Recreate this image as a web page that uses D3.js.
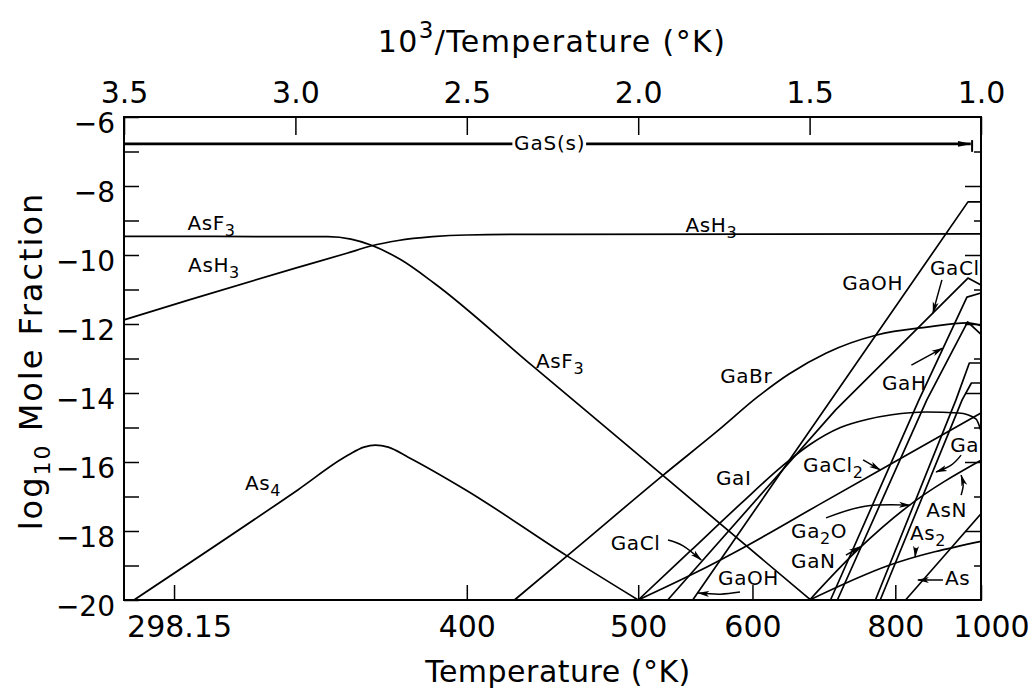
<!DOCTYPE html>
<html>
<head>
<meta charset="utf-8">
<script src="https://cdnjs.cloudflare.com/ajax/libs/d3/7.8.5/d3.min.js"></script>
<style>
  body { margin: 0; background: #fff; }
  svg { display: block; }
</style>
</head>
<body>
<div class="canva"></div>
<script>
// values: x = 1000/T, y = log10 mole fraction
const invTTicks = [3.5, 3.0, 2.5, 2.0, 1.5, 1.0];
const tempTicks = [298.15, 400, 500, 600, 800, 1000];
const logTicks = d3.range(-20, -5);

// curves, [1000/T, log10 x]
const asF3 = [[3.5,-9.46],[2.905,-9.47],[2.838,-9.54],[2.78,-9.71],[2.692,-10.14],[2.596,-10.81],[2.31,-13.2],[1.922,-16.44],[1.497,-20]];
const asH3 = [[3.5,-11.88],[3.31,-11.3],[3.0,-10.38],[2.85,-9.95],[2.78,-9.74],[2.7,-9.58],[2.6,-9.47],[2.5,-9.42],[2.3,-9.4],[1.0,-9.39]];
const as4 = [[3.471,-20],[2.993,-16.81],[2.846,-15.8],[2.8,-15.57],[2.767,-15.51],[2.729,-15.57],[2.671,-15.86],[2.503,-16.81],[2.211,-18.7],[2.0,-20]];
const gaBr = [[2.361,-20],[2.176,-18.46],[1.927,-16.38],[1.765,-15.07],[1.65,-14.1],[1.56,-13.45],[1.451,-12.84],[1.304,-12.32],[1.158,-12.09],[1.04,-11.97],[1.0,-12.05]];
const gaOH = [[1.841,-20],[1.038,-8.46],[1.0,-8.46]];
const gaCl = [[1.914,-20],[1.424,-14.49],[1.038,-10.67],[1.0,-10.87]];
const gaH = [[1.439,-20],[1.181,-14.2],[1.041,-11.22],[1.0,-11.1]];
const gaN = [[1.419,-20],[1.158,-14.2],[1.039,-11.94],[1.0,-12.3]];
const ga2O = [[1.308,-20],[1.073,-14.2],[1.034,-13.13],[1.0,-13.13]];
const ga = [[1.294,-20],[1.055,-14.2],[1.028,-13.71],[1.0,-13.71]];
const gaI = [[2.0,-20],[1.85,-18.6],[1.7,-17.2],[1.58,-16.12],[1.5,-15.5],[1.41,-15.0],[1.33,-14.76],[1.26,-14.63],[1.16,-14.55],[1.065,-14.58],[1.015,-14.75],[1.0,-15.1]];
const gaCl2 = [[2.0,-20],[1.835,-19.22],[1.68,-18.41],[1.475,-17.25],[1.294,-16.23],[1.0,-14.58]];
const asN = [[1.5,-20],[1.36,-18.55],[1.215,-17.3],[1.0,-15.95]];
const as2 = [[1.5,-20],[1.27,-19.0],[1.0,-18.3]];
const as = [[1.22,-20],[1.0,-17.5]];

// GaS(s) stability bar
const gaSLeft = [[3.5,-6.78],[2.367,-6.78]];
const gaSRight = [[2.152,-6.78],[1.03,-6.78]];
const gaSBar = [[1.026,-6.67],[1.026,-7.01]];

// labels: text (_n = subscript), 1000/T at left edge, log10 at baseline
const labels = [
  ['AsF_3', 3.315, -9.28], ['AsH_3', 3.313, -10.49], ['AsH_3', 1.862, -9.33],
  ['AsF_3', 2.298, -13.28], ['As_4', 3.147, -16.81], ['GaBr', 1.761, -13.71],
  ['GaOH', 1.405, -11.01], ['GaCl', 1.149, -10.58], ['GaH', 1.289, -13.91],
  ['GaI', 1.773, -16.67], ['GaCl_2', 1.519, -16.29], ['Ga', 1.09, -15.71],
  ['AsN', 1.16, -17.59], ['As_2', 1.207, -18.26], ['As', 1.105, -19.57],
  ['Ga_2O', 1.554, -18.2], ['GaN', 1.554, -19.07], ['GaCl', 2.08, -18.55],
  ['GaOH', 1.767, -19.57]
];

// pointer arrows, tail to head
const arrows = [
  [[1.913,-18.26],[1.869,-18.43],[1.816,-18.84]],
  [[1.703,-19.77],[1.76,-19.83],[1.825,-19.8]],
  [[1.344,-15.94],[1.294,-16.23]],
  [[1.452,-17.62],[1.338,-17.28],[1.207,-17.25]],
  [[1.394,-18.7],[1.353,-18.46]],
  [[1.058,-15.8],[1.087,-16.09],[1.131,-16.29]],
  [[1.058,-16.96],[1.052,-16.67],[1.058,-16.38]],
  [[1.19,-18.49],[1.192,-18.75]],
  [[1.111,-19.42],[1.184,-19.42]],
  [[1.203,-13.19],[1.112,-12.7]],
  [[1.114,-10.72],[1.128,-11.22],[1.14,-11.68]]
];

const series = [asF3, asH3, as4, gaBr, gaOH, gaCl, gaH, gaN, ga2O, ga, gaI, gaCl2, asN, as2, as];
const smooth = new Set([asF3, asH3, as4, gaBr, gaI, gaCl2, asN, as2]);

const font = 'DejaVu Sans';
const lblSize = 20;

const svg = d3.select('.canva').append('svg')
  .attr('width', 1034)
  .attr('height', 689);

const margin = { top: 117, right: 53, bottom: 89, left: 124 };
const graphWidth = 1034 - margin.left - margin.right;
const graphHeight = 689 - margin.top - margin.bottom;

const graph = svg.append('g')
  .attr('transform', `translate(${margin.left},${margin.top})`);

const x = d3.scaleLinear().domain([3.5, 1.0]).range([0, graphWidth]);
const y = d3.scaleLinear().domain([-20, -6]).range([graphHeight, 0]);

// arrow heads
const defs = svg.append('defs');
defs.append('marker')
  .attr('id', 'head')
  .attr('viewBox', '0 0 12 8')
  .attr('refX', 11).attr('refY', 4)
  .attr('markerWidth', 12).attr('markerHeight', 8)
  .attr('markerUnits', 'userSpaceOnUse')
  .attr('orient', 'auto')
  .append('path').attr('d', 'M0,1 L12,4 L0,7 L3,4 Z').attr('fill', '#000');
defs.append('marker')
  .attr('id', 'bighead')
  .attr('viewBox', '0 0 14 8')
  .attr('refX', 13).attr('refY', 4)
  .attr('markerWidth', 14).attr('markerHeight', 8)
  .attr('markerUnits', 'userSpaceOnUse')
  .attr('orient', 'auto')
  .append('path').attr('d', 'M0,1 L14,4 L0,7 Z').attr('fill', '#000');

// axes
function styleAxis(g, size) {
  g.attr('font-family', font).attr('font-size', size);
  g.select('.domain').remove();
  g.selectAll('.tick line').attr('stroke', '#000').attr('stroke-width', 1.5);
  g.selectAll('.tick text').attr('fill', '#000');
}

const topAxis = d3.axisTop(x).tickValues(invTTicks)
  .tickFormat(d3.format('.1f'))
  .tickSizeInner(-18).tickSizeOuter(0).tickPadding(14);
graph.append('g').call(topAxis).call(g => styleAxis(g, 30));

const bottomAxis = d3.axisBottom(x).tickValues(tempTicks.map(t => 1000 / t))
  .tickFormat((d, i) => String(tempTicks[i]))
  .tickSizeInner(-15).tickSizeOuter(0).tickPadding(16);
graph.append('g')
  .attr('transform', `translate(0,${graphHeight})`)
  .call(bottomAxis)
  .call(g => styleAxis(g, 30))
  .call(g => g.selectAll('.tick text').attr('dx', (d, i) => i === 0 ? 5 : (i === tempTicks.length - 1 ? 10 : 0)));

const leftAxis = d3.axisLeft(y).tickValues(logTicks)
  .tickFormat(d => d % 2 === 0 ? '\u2212' + Math.abs(d) : '')
  .tickSizeInner(-15).tickSizeOuter(0).tickPadding(9);
graph.append('g').call(leftAxis)
  .call(g => styleAxis(g, 28))
  .call(g => g.selectAll('.tick text').attr('dy', '0.55em'));

const rightAxis = d3.axisRight(y).tickValues(logTicks.slice(1, -1))
  .tickFormat('').tickSizeInner(-16).tickSizeOuter(0);
graph.append('g')
  .attr('transform', `translate(${graphWidth},0)`)
  .call(rightAxis)
  .call(g => styleAxis(g, 10))
  .call(g => g.selectAll('.tick line').attr('x2', d => d % 2 ? -7 : -16));

// frame
graph.append('rect')
  .attr('width', graphWidth).attr('height', graphHeight)
  .attr('fill', 'none').attr('stroke', '#000').attr('stroke-width', 2);

// curves
const line = d3.line().x(d => x(d[0])).y(d => y(d[1]));
const lineSmooth = d3.line().x(d => x(d[0])).y(d => y(d[1])).curve(d3.curveMonotoneX);

graph.selectAll('path.curve')
  .data(series)
  .enter().append('path')
  .attr('class', 'curve')
  .attr('d', d => smooth.has(d) ? lineSmooth(d) : line(d))
  .attr('fill', 'none')
  .attr('stroke', '#000')
  .attr('stroke-width', 1.7)
  .attr('stroke-linejoin', 'round');

// GaS(s)
graph.append('path').attr('d', line(gaSLeft))
  .attr('stroke', '#000').attr('stroke-width', 2.6).attr('fill', 'none');
graph.append('path').attr('d', line(gaSRight))
  .attr('stroke', '#000').attr('stroke-width', 2.6).attr('fill', 'none')
  .attr('marker-end', 'url(#bighead)');
graph.append('path').attr('d', line(gaSBar))
  .attr('stroke', '#000').attr('stroke-width', 2).attr('fill', 'none');
graph.append('text')
  .attr('x', x(2.258)).attr('y', y(-6.96))
  .attr('text-anchor', 'middle')
  .attr('font-family', font).attr('font-size', 20)
  .attr('letter-spacing', 0.8)
  .text('GaS(s)');

// pointer arrows
const arrowLine = d3.line().x(d => x(d[0])).y(d => y(d[1])).curve(d3.curveNatural);
graph.selectAll('path.arrow')
  .data(arrows)
  .enter().append('path')
  .attr('class', 'arrow')
  .attr('d', arrowLine)
  .attr('fill', 'none')
  .attr('stroke', '#000')
  .attr('stroke-width', 1.5)
  .attr('marker-end', 'url(#head)');

// curve labels
function addRich(text, str, size) {
  let shift = 0;
  str.split(/(_\d+)/).filter(s => s).forEach(part => {
    if (part[0] === '_') {
      text.append('tspan').attr('font-size', size * 0.8).attr('dy', 6 - shift).text(part.slice(1));
      shift = 6;
    } else {
      text.append('tspan').attr('dy', -shift).text(part);
      shift = 0;
    }
  });
}

graph.selectAll('text.lbl')
  .data(labels)
  .enter().append('text')
  .attr('class', 'lbl')
  .attr('x', d => x(d[1]))
  .attr('y', d => y(d[2]))
  .attr('font-family', font)
  .attr('font-size', lblSize)
  .attr('letter-spacing', 0.6)
  .each(function(d) { addRich(d3.select(this), d[0], lblSize); });

// axis titles
const topTitle = svg.append('text')
  .attr('x', 552).attr('y', 52)
  .attr('text-anchor', 'middle')
  .attr('font-family', font).attr('font-size', 30)
  .attr('letter-spacing', 1.4);
topTitle.append('tspan').text('10');
topTitle.append('tspan').attr('font-size', 23).attr('dy', -14).text('3');
topTitle.append('tspan').attr('dy', 14).text('/Temperature (°K)');

svg.append('text')
  .attr('x', 558).attr('y', 682)
  .attr('text-anchor', 'middle')
  .attr('font-family', font).attr('font-size', 30)
  .attr('letter-spacing', 0.5)
  .text('Temperature (°K)');

const yTitle = svg.append('text')
  .attr('transform', 'translate(42,361) rotate(-90)')
  .attr('text-anchor', 'middle')
  .attr('font-family', font).attr('font-size', 32)
  .attr('letter-spacing', 2);
yTitle.append('tspan').text('log');
yTitle.append('tspan').attr('font-size', 22).attr('dy', 8).text('10');
yTitle.append('tspan').attr('dy', -8).text(' Mole Fraction');
</script>
</body>
</html>
